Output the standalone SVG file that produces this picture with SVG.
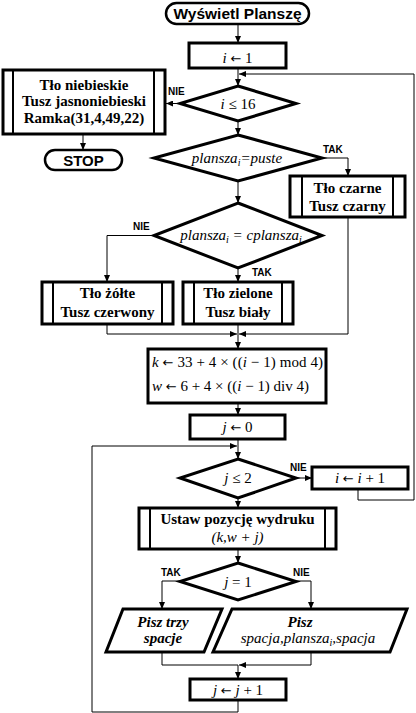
<svg xmlns="http://www.w3.org/2000/svg" width="416" height="713" viewBox="0 0 416 713">
<defs>
<style>
.box{fill:#fff;stroke:#000;stroke-width:3}
.inner{stroke:#000;stroke-width:2;fill:none}
.term{fill:#fff;stroke:#000;stroke-width:2.5}
.conn{fill:none;stroke:#000;stroke-width:1}
.lbl{font-family:"Liberation Sans",Arial,sans-serif;font-weight:bold;font-size:10px}
.bt{font-family:"Liberation Serif","Times New Roman",serif;font-weight:bold;font-size:15px;text-anchor:middle}
.mt{font-family:"Liberation Serif","Times New Roman",serif;font-size:15px;text-anchor:middle}
.tt{font-family:"Liberation Sans",Arial,sans-serif;font-weight:bold;font-size:15.5px;text-anchor:middle}
.it{font-style:italic}
.sub{font-size:10px}
.ar{font-family:"DejaVu Sans",sans-serif;font-size:13px}
</style>
<marker id="ah" markerWidth="7" markerHeight="6" refX="7" refY="3" orient="auto" markerUnits="userSpaceOnUse">
<path d="M0,0 L7,3 L0,6 z" fill="#000"/>
</marker>
</defs>
<rect width="416" height="713" fill="#fff"/>

<g id="connectors" class="conn" marker-end="url(#ah)">
<path d="M238,24 V43"/>
<path d="M238,68 V86"/>
<path d="M358,489 V500 H414 V74 H239"/>
<path d="M180,103.5 H166"/>
<path d="M83,135 V150"/>
<path d="M238,121 V135"/>
<path d="M321,158 H348 V176"/>
<path d="M238,181 V203"/>
<path d="M154,235.5 H107 V282"/>
<path d="M238,268 V282"/>
<path d="M107,324 V334 H237"/>
<path d="M348,217 V334 H239"/>
<path d="M238,324 V349"/>
<path d="M238,403 V415"/>
<path d="M238,439 V459"/>
<path d="M296,478 H312"/>
<path d="M238,498 V508"/>
<path d="M238,549 V563"/>
<path d="M180,581 H162 V609"/>
<path d="M296,581 H311 V609"/>
<path d="M162,652 V665 H238" marker-end="none"/>
<path d="M311,652 V665 H239"/>
<path d="M238,665 V679"/>
<path d="M238,700 V712 H92 V446 H237"/>
</g>

<g id="labels" class="lbl">
<text x="168" y="95">NIE</text>
<text x="323" y="153">TAK</text>
<text x="133" y="230">NIE</text>
<text x="252" y="276">TAK</text>
<text x="290" y="471">NIE</text>
<text x="161" y="576">TAK</text>
<text x="293" y="576">NIE</text>
</g>

<g id="start">
<rect class="term" x="166" y="3" width="143" height="21" rx="10.5"/>
<text class="tt" x="237.5" y="19">Wyświetl Planszę</text>
</g>

<g id="init_i">
<rect class="box" x="189" y="43" width="97" height="25"/>
<text class="mt" x="237.5" y="63"><tspan class="it">i</tspan> <tspan class="ar">←</tspan> 1</text>
</g>

<g id="cond_i">
<polygon class="box" points="238,86 296,103.5 238,121 180,103.5"/>
<text class="mt" x="238" y="109"><tspan class="it">i</tspan> ≤ 16</text>
</g>

<g id="finish_box">
<rect class="box" x="3" y="70" width="162" height="64"/>
<line class="inner" x1="13" y1="70" x2="13" y2="134"/>
<line class="inner" x1="154" y1="70" x2="154" y2="134"/>
<text class="bt" x="84" y="90">Tło niebieskie</text>
<text class="bt" x="84" y="106">Tusz jasnoniebieski</text>
<text class="bt" x="84" y="123">Ramka(31,4,49,22)</text>
</g>

<g id="stop">
<rect class="term" x="45" y="150" width="77" height="20" rx="10"/>
<text class="tt" x="83.5" y="166" style="font-size:15px">STOP</text>
</g>

<g id="cond_puste">
<polygon class="box" points="238,135 322,158 238,181 154,158"/>
<text class="mt it" x="237" y="163">plansza<tspan class="sub" dy="3">i</tspan><tspan dy="-3">=puste</tspan></text>
</g>

<g id="czarne">
<rect class="box" x="290" y="176" width="115" height="41"/>
<line class="inner" x1="302" y1="176" x2="302" y2="217"/>
<line class="inner" x1="393" y1="176" x2="393" y2="217"/>
<text class="bt" x="347.5" y="193">Tło czarne</text>
<text class="bt" x="347.5" y="211">Tusz czarny</text>
</g>

<g id="cond_cplansza">
<polygon class="box" points="238,203 322,235.5 238,268 154,235.5"/>
<text class="mt it" x="241" y="240">plansza<tspan class="sub" dy="3">i</tspan><tspan dy="-3"> = cplansza</tspan><tspan class="sub" dy="3">i</tspan></text>
</g>

<g id="zolte">
<rect class="box" x="42" y="282" width="131" height="42"/>
<line class="inner" x1="53" y1="282" x2="53" y2="324"/>
<line class="inner" x1="162" y1="282" x2="162" y2="324"/>
<text class="bt" x="107.5" y="298">Tło żółte</text>
<text class="bt" x="107.5" y="317">Tusz czerwony</text>
</g>

<g id="zielone">
<rect class="box" x="183" y="282" width="110" height="42"/>
<line class="inner" x1="194" y1="282" x2="194" y2="324"/>
<line class="inner" x1="282" y1="282" x2="282" y2="324"/>
<text class="bt" x="238" y="298">Tło zielone</text>
<text class="bt" x="238" y="317">Tusz biały</text>
</g>

<g id="calc_kw">
<rect class="box" x="148" y="349" width="178" height="54"/>
<text class="mt" x="152" y="367" style="text-anchor:start" textLength="171" lengthAdjust="spacing"><tspan class="it">k</tspan> <tspan class="ar">←</tspan> 33 + 4 × ((<tspan class="it">i</tspan> − 1) mod 4)</text>
<text class="mt" x="152" y="391" style="text-anchor:start" textLength="157" lengthAdjust="spacing"><tspan class="it">w</tspan> <tspan class="ar">←</tspan> 6 + 4 × ((<tspan class="it">i</tspan> − 1) div 4)</text>
</g>

<g id="init_j">
<rect class="box" x="190" y="415" width="95" height="24"/>
<text class="mt" x="237.5" y="432"><tspan class="it">j</tspan> <tspan class="ar">←</tspan> 0</text>
</g>

<g id="cond_j">
<polygon class="box" points="238,459 296,478 238,498 180,478"/>
<text class="mt" x="238" y="483"><tspan class="it">j</tspan> ≤ 2</text>
</g>

<g id="inc_i">
<rect class="box" x="312" y="467" width="96" height="22"/>
<text class="mt" x="360" y="483"><tspan class="it">i</tspan> <tspan class="ar">←</tspan> <tspan class="it">i</tspan> + 1</text>
</g>

<g id="ustaw">
<rect class="box" x="139" y="508" width="197" height="41"/>
<line class="inner" x1="150" y1="508" x2="150" y2="549"/>
<line class="inner" x1="325" y1="508" x2="325" y2="549"/>
<text class="bt" x="237.5" y="524">Ustaw pozycję wydruku</text>
<text class="mt it" x="237.5" y="542">(k,w + j)</text>
</g>

<g id="cond_j1">
<polygon class="box" points="238,563 296,581.5 238,600 180,581.5"/>
<text class="mt" x="238" y="587"><tspan class="it">j</tspan> = 1</text>
</g>

<g id="pisz_trzy">
<polygon class="box" points="123,609 222,609 204,652 106,652"/>
<text class="bt it" x="163" y="627">Pisz trzy</text>
<text class="bt it" x="163" y="643">spacje</text>
</g>

<g id="pisz_plansza">
<polygon class="box" points="232,609 407,609 390,652 213,652"/>
<text class="bt it" x="300" y="627">Pisz</text>
<text class="mt it" x="308" y="643">spacja,plansza<tspan class="sub" dy="3">i</tspan><tspan dy="-3">,spacja</tspan></text>
</g>

<g id="inc_j">
<rect class="box" x="190" y="679" width="96" height="21"/>
<text class="mt" x="238" y="695"><tspan class="it">j</tspan> <tspan class="ar">←</tspan> <tspan class="it">j</tspan> + 1</text>
</g>
</svg>
